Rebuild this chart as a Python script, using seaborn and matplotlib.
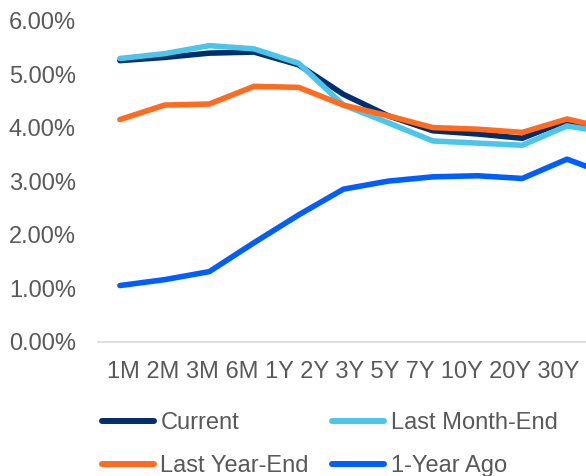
import matplotlib
matplotlib.use("Agg")
import matplotlib.pyplot as plt
from matplotlib.lines import Line2D
from matplotlib.ticker import FuncFormatter
import pandas as pd
import seaborn as sns

# tenor buckets and yield curves (%)
tenors = ["1M", "2M", "3M", "6M", "1Y", "2Y", "3Y", "5Y", "7Y", "10Y", "20Y", "30Y"]
current = [5.25, 5.31, 5.39, 5.41, 5.17, 4.62, 4.22, 3.94, 3.88, 3.80, 4.13, 3.92]
last_month_end = [5.29, 5.38, 5.53, 5.47, 5.20, 4.42, 4.09, 3.75, 3.71, 3.67, 4.03, 3.90]
last_year_end = [4.15, 4.42, 4.44, 4.77, 4.75, 4.42, 4.22, 4.00, 3.97, 3.91, 4.16, 3.97]
one_year_ago = [1.05, 1.16, 1.31, 1.85, 2.37, 2.85, 3.00, 3.08, 3.10, 3.05, 3.41, 3.10]

series_names = ["Current", "Last Month-End", "Last Year-End", "1-Year Ago"]
colors = ["#002F6C", "#4CC5EA", "#FF6B1F", "#005EFF"]
TEXT = "#595959"
FS = 17

wide = pd.DataFrame({
    "pos": range(len(tenors)),
    "Current": current,
    "Last Month-End": last_month_end,
    "Last Year-End": last_year_end,
    "1-Year Ago": one_year_ago,
})
long_df = wide.melt(id_vars="pos", var_name="series", value_name="yield")

sns.set_theme(style="white")
plt.rcParams["font.family"] = ["Liberation Sans", "DejaVu Sans"]

fig = plt.figure(figsize=(5.86, 4.76), dpi=100)
ax = fig.add_axes([0.1672, 0.282, 0.8328, 0.675])

sns.lineplot(
    data=long_df, x="pos", y="yield", hue="series", hue_order=series_names,
    palette=dict(zip(series_names, colors)), linewidth=4, sort=False,
    legend=False, ax=ax,
)

ax.set_ylim(0, 6)
ax.set_xlim(-0.49, 10.425)
ax.set_yticks(range(0, 7))
ax.yaxis.set_major_formatter(FuncFormatter(lambda v, _: f"{v:.2f}%"))
ax.tick_params(axis="y", length=0, pad=16, labelsize=FS, labelcolor=TEXT)
ax.set_xticks([])
ax.set_xlabel("")
ax.set_ylabel("")
for side in ["top", "right", "left"]:
    ax.spines[side].set_visible(False)
ax.spines["bottom"].set_color("#D9D9D9")
ax.spines["bottom"].set_linewidth(1.2)

# category labels run as one line of text under the axis
ax.text(0.503, -0.094, " ".join(tenors), transform=ax.transAxes,
        ha="center", va="center", fontsize=FS, color=TEXT)

# legend fills column-wise, so order entries to read row by row
order = [0, 2, 1, 3]
handles = [Line2D([], [], color=colors[i], linewidth=4.3) for i in order]
labels = [series_names[i] for i in order]
fig.legend(
    handles, labels, loc="upper left", bbox_to_anchor=(0.174, 0.134),
    ncol=2, frameon=False, fontsize=FS, labelcolor=TEXT,
    handlelength=2.2, handletextpad=0.27, columnspacing=1.0,
    labelspacing=0.9, borderpad=0, borderaxespad=0,
)

fig.savefig("out.png", dpi=100)
